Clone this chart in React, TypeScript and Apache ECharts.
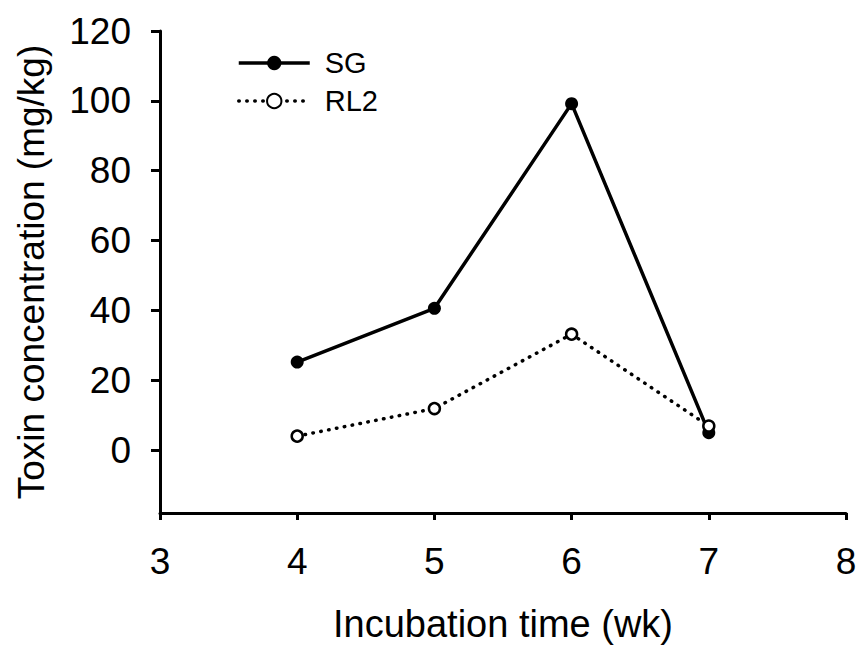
import React, { useEffect, useRef } from "react";
import * as echarts from "echarts";

const weeks = [4, 5, 6, 7];
const sgValues = [25.2, 40.6, 99.2, 5];
const rl2Values = [4.0, 11.9, 33.2, 6.9];
const yTickValues = [0, 20, 40, 60, 80, 100, 120];
const xTickValues = [3, 4, 5, 6, 7, 8];

const FONT = "'Liberation Sans', Arial, sans-serif";

export default function App() {
  const ref = useRef<HTMLDivElement>(null);
  useEffect(() => {
    if (!ref.current) return;
    const chart = echarts.init(ref.current, null, { renderer: "svg" });
    chart.setOption({
      animation: false,
      backgroundColor: "#fff",
      textStyle: { fontFamily: FONT, color: "#000" },
      grid: { left: 160, right: 20, top: 31, bottom: 140, containLabel: false },
      legend: {
        orient: "vertical",
        left: 232,
        top: 42,
        itemWidth: 71,
        itemHeight: 18,
        itemGap: 6,
        lineStyle: { width: 3.5 },
        textStyle: { fontFamily: FONT, fontSize: 29, color: "#000", lineHeight: 32, padding: [0, 0, 0, 10] },
        data: ["SG", "RL2"],
      },
      xAxis: {
        type: "value",
        min: 3,
        max: 8,
        interval: 1,
        name: "Incubation time (wk)",
        nameLocation: "middle",
        nameGap: 92,
        nameTextStyle: { fontFamily: FONT, fontSize: 38, color: "#000" },
        axisLine: { show: true, onZero: false, lineStyle: { color: "#000", width: 3 } },
        axisTick: { show: true, inside: false, length: 7, lineStyle: { color: "#000", width: 3 }, customValues: xTickValues },
        axisLabel: { fontFamily: FONT, fontSize: 37, color: "#000", margin: 30, customValues: xTickValues },
        splitLine: { show: false },
      },
      yAxis: {
        type: "value",
        min: -18,
        max: 120,
        name: "Toxin concentration (mg/kg)",
        nameLocation: "middle",
        nameGap: 110,
        nameTextStyle: { fontFamily: FONT, fontSize: 37, color: "#000" },
        axisLine: { show: true, onZero: false, lineStyle: { color: "#000", width: 3 } },
        axisTick: { show: true, inside: false, length: 9, lineStyle: { color: "#000", width: 3 }, customValues: yTickValues },
        axisLabel: { fontFamily: FONT, fontSize: 37, color: "#000", margin: 29, customValues: yTickValues },
        splitLine: { show: false },
      },
      series: [
        {
          name: "SG",
          type: "line",
          data: weeks.map((w, i) => [w, sgValues[i]]),
          symbol: "circle",
          symbolSize: 13,
          itemStyle: { color: "#000" },
          lineStyle: { color: "#000", width: 3.5 },
          z: 2,
        },
        {
          name: "RL2",
          type: "line",
          data: weeks.map((w, i) => [w, rl2Values[i]]),
          symbol: "circle",
          symbolSize: 11,
          itemStyle: { color: "#fff", borderColor: "#000", borderWidth: 2.5 },
          lineStyle: { color: "#000", width: 3.5, type: [0.5, 7.5], cap: "round" },
          z: 3,
        },
      ],
    });
    return () => chart.dispose();
  }, []);
  return <div ref={ref} style={{ width: 866, height: 653, position: "absolute", left: 0, top: 0 }} />;
}
